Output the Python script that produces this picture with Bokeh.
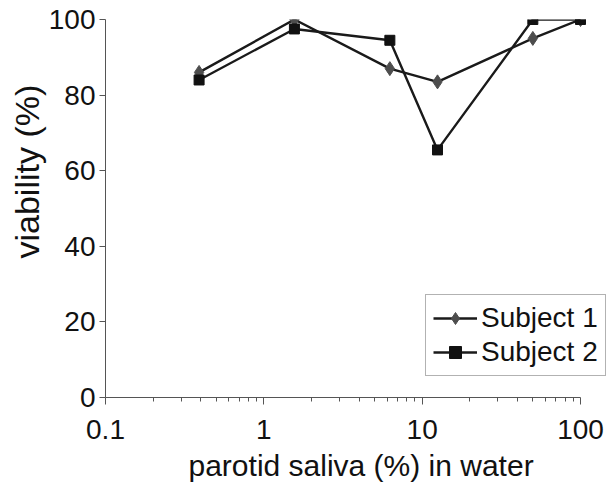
from bokeh.plotting import figure
from bokeh.models import FixedTicker, CustomJSTickFormatter, Legend, LegendItem, Title
from bokeh.embed import file_html
from bokeh.resources import INLINE

# data
concentration = [0.39, 1.56, 6.25, 12.5, 50, 100]
subject1 = [86, 100, 87, 83.5, 95, 100]
subject2 = [84, 97.5, 94.5, 65.5, 100, 100]
x_major = [0.1, 1, 10, 100]
x_minor = [0.2, 0.3, 0.4, 0.5, 0.6, 0.7, 0.8, 0.9,
           2, 3, 4, 5, 6, 7, 8, 9,
           20, 30, 40, 50, 60, 70, 80, 90]
y_ticks = [0, 20, 40, 60, 80, 100]

FONT = "Liberation Sans"
TXT = "#111111"
AX = "#555555"

# layout: the axis spans 0.1..100 over 475 px; the frame runs a little further right for the legend
W, H = 611, 493
LEFT, TOP, BOTTOM = 105, 19, 96
decade_px = 475 / 3.0
extra_px = W - LEFT - 475
x_end = 100 * 10 ** (extra_px / decade_px)

p = figure(width=W, height=H, x_axis_type="log", x_range=(0.1, x_end), y_range=(0, 100),
           output_backend="svg", toolbar_location=None,
           min_border_left=LEFT, min_border_right=0, min_border_top=TOP, min_border_bottom=BOTTOM)
p.outline_line_color = None
p.grid.visible = False
p.background_fill_color = "white"
p.border_fill_color = "white"

l1 = p.line(concentration, subject1, line_color="#1a1a1a", line_width=2.4)
m1 = p.scatter(concentration, subject1, marker="diamond", size=14, fill_color="#4d4d4d", line_color="#4d4d4d")
l2 = p.line(concentration, subject2, line_color="#1a1a1a", line_width=2.4)
m2 = p.scatter(concentration, subject2, marker="square", size=10, fill_color="#111111", line_color="#111111")

xa = p.xaxis[0]
xa.ticker = FixedTicker(ticks=x_major, minor_ticks=x_minor)
xa.formatter = CustomJSTickFormatter(code="return tick < 1 ? tick.toFixed(1) : tick.toFixed(0);")
xa.bounds = (0.1, 100)
ya = p.yaxis[0]
ya.ticker = FixedTicker(ticks=y_ticks, minor_ticks=[])

for ax in (xa, ya):
    ax.axis_line_color = AX
    ax.axis_line_width = 1
    ax.major_tick_line_color = AX
    ax.minor_tick_line_color = AX
    ax.major_tick_in = 0
    ax.major_tick_out = 6
    ax.minor_tick_in = 0
    ax.minor_tick_out = 4
    ax.major_label_text_font = FONT
    ax.major_label_text_font_size = "28px"
    ax.major_label_text_color = TXT
xa.major_tick_out = 7
xa.major_label_standoff = 15
ya.major_label_standoff = 4

# axis titles, placed as in the reference
xt = Title(text="parotid saliva (%) in water", align="left", offset=83, standoff=10,
           text_font=FONT, text_font_size="30px", text_font_style="normal", text_color=TXT)
p.add_layout(xt, "below")
yt = Title(text="viability (%)", align="left", offset=139, standoff=0,
           text_font=FONT, text_font_size="34px", text_font_style="normal", text_color=TXT)
p.add_layout(yt, "left")

legend = Legend(items=[LegendItem(label="Subject 1", renderers=[l1, m1]),
                       LegendItem(label="Subject 2", renderers=[l2, m2])],
                location=(320, 21))
legend.label_text_font = FONT
legend.label_text_font_size = "28px"
legend.label_text_color = TXT
legend.border_line_color = "#666666"
legend.border_line_width = 1
legend.background_fill_alpha = 1
legend.glyph_width = 44
legend.glyph_height = 30
legend.spacing = 2
legend.padding = 7
legend.margin = 0
legend.label_standoff = 4
p.add_layout(legend, "center")

open("out.html", "w").write(file_html(p, INLINE))
